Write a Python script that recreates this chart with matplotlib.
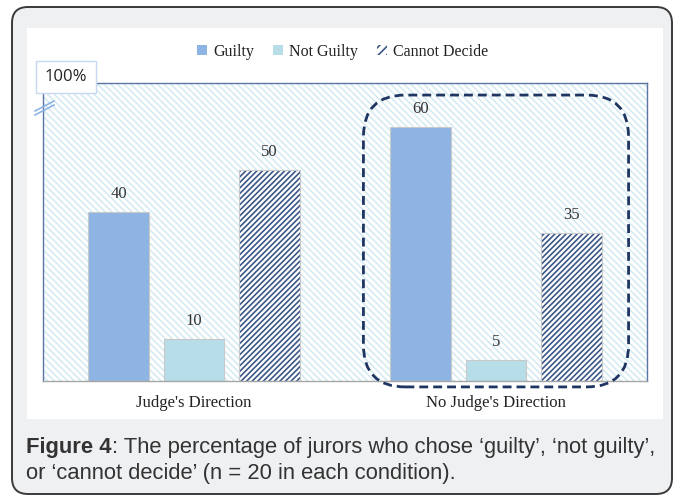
import matplotlib
matplotlib.use("Agg")
import matplotlib.pyplot as plt
from matplotlib.patches import Rectangle, FancyBboxPatch, Patch
from matplotlib.lines import Line2D
import numpy as np

categories = ["Judge's Direction", "No Judge's Direction"]
series_names = ["Guilty", "Not Guilty", "Cannot Decide"]
guilty = [40, 60]
not_guilty = [10, 5]
cannot_decide = [50, 35]
top_label = "100%"
caption_bold = "Figure 4"
caption_rest1 = ": The percentage of jurors who chose \u2018guilty\u2019, \u2018not guilty\u2019,"
caption_line2 = "or \u2018cannot decide\u2019 (n = 20 in each condition)."

W, H = 683, 497
DPI = 100
fig = plt.figure(figsize=(W / DPI, H / DPI), dpi=DPI, facecolor="white")

def px(x, y):
    return x / W, 1 - y / H

# outer rounded card
card = FancyBboxPatch((12 / DPI, (H - 494) / DPI), (672 - 12) / DPI, (494 - 7) / DPI,
                      boxstyle="round,pad=0,rounding_size=0.16",
                      transform=fig.dpi_scale_trans, facecolor="#eff0f2",
                      edgecolor="#3a3a3a", linewidth=1.4, zorder=-3)
fig.patches.append(card)
# white panel
panel = Rectangle(px(27, 419), (663 - 27) / W, (419 - 28) / H, transform=fig.transFigure,
                  facecolor="white", edgecolor="none", zorder=-2)
fig.patches.append(panel)

serif = ["Liberation Serif", "DejaVu Serif"]
sans = ["Liberation Sans", "DejaVu Sans"]

ax = fig.add_axes([43 / W, (H - 381) / H, (647 - 43) / W, (381 - 83) / H])
ax.set_xlim(-0.5, 1.5)
ax.set_ylim(0, 70.45)
ax.patch.set_alpha(0)

# background hatch
plt.rcParams['hatch.linewidth'] = 1.1
bg = Rectangle((0, 0), 1, 1, transform=ax.transAxes, facecolor="white",
               edgecolor="#d3eaf2", hatch="\\" * 5, linewidth=0, zorder=0)
ax.add_patch(bg)

x = np.arange(len(categories))
bw = 0.2
step = 0.25
b1 = ax.bar(x - step, guilty, bw, color="#8eb4e3", edgecolor="#c9c9c9", linewidth=0.8, zorder=2)
b2 = ax.bar(x, not_guilty, bw, color="#b7dee8", edgecolor="#c9c9c9", linewidth=0.8, zorder=2)
plt.rcParams['hatch.linewidth'] = 1.2
b3 = ax.bar(x + step, cannot_decide, bw, color="white", edgecolor="#3b5787", hatch="/" * 6,
            linewidth=0, zorder=2)
ax.bar(x + step, cannot_decide, bw, color="none", edgecolor="#c9c9c9", linewidth=0.8, zorder=3)

for bars, vals in [(b1, guilty), (b2, not_guilty), (b3, cannot_decide)]:
    for r, v in zip(bars, vals):
        ax.annotate(str(v), (r.get_x() + r.get_width() / 2, v), xytext=(0, 7),
                    textcoords="offset points", ha="center", va="bottom",
                    fontsize=12, family=serif, color="#333333")

ax.set_xticks(x)
ax.set_xticklabels(categories, family=serif, fontsize=12, color="#222222")
ax.tick_params(axis="x", length=0, pad=10)
ax.set_yticks([])
for s in ["left", "top", "right"]:
    ax.spines[s].set_color("#5a74a3")
    ax.spines[s].set_linewidth(1.0)
ax.spines["bottom"].set_color("#a6a6a6")
ax.spines["bottom"].set_linewidth(1.0)

# dashed rounded highlight around second group
fig.canvas.draw()
inv = fig.dpi_scale_trans.inverted()
x0d, x1d = 1 - 0.439, 1 + 0.439
y0d, y1d = -1.4, 67.6
(ix0, iy0) = inv.transform(ax.transData.transform((x0d, y0d)))
(ix1, iy1) = inv.transform(ax.transData.transform((x1d, y1d)))
hl = FancyBboxPatch((ix0, iy0), ix1 - ix0, iy1 - iy0,
                    boxstyle="round,pad=0,rounding_size=0.42",
                    transform=fig.dpi_scale_trans, facecolor="none",
                    edgecolor="#1f3561", linewidth=2.0, linestyle=(0, (3.2, 1.8)), zorder=5)
fig.patches.append(hl)

# legend
handles = [Patch(facecolor="#8eb4e3", edgecolor="none"),
           Patch(facecolor="#b7dee8", edgecolor="none"),
           Patch(facecolor="white", edgecolor="#3b5787", hatch="////", linewidth=0)]
fig.legend(handles, series_names, loc="center", bbox_to_anchor=px(343, 52), ncol=3,
           frameon=False, prop={"family": serif, "size": 11.5}, handlelength=0.6,
           handleheight=0.6, handletextpad=0.4, columnspacing=1.2,
           labelcolor="#222222")

# 100% box
fig.text(*px(66, 77), top_label, ha="center", va="center", fontsize=12,
         family=["Open Sans", "DejaVu Sans"], color="#222222",
         bbox=dict(boxstyle="square,pad=0.5", facecolor="white", edgecolor="#c6d9f1", linewidth=1.0))

# axis break marks
for dy in (0, 4):
    fig.add_artist(Line2D([35 / W, 54 / W], [1 - (111 + dy) / H, 1 - (101 + dy) / H],
                          transform=fig.transFigure, color="#8eb4e3", linewidth=1.2))

# caption
fs = 15.8
t1 = fig.text(*px(26, 453), caption_bold, fontsize=fs, family=sans, weight="bold",
              color="#333333", va="baseline", ha="left")
fig.canvas.draw()
bb = t1.get_window_extent()
fig.text(bb.x1 / W, 1 - 453 / H, caption_rest1, fontsize=fs, family=sans,
         color="#333333", va="baseline", ha="left")
fig.text(*px(26, 479), caption_line2, fontsize=fs, family=sans,
         color="#333333", va="baseline", ha="left")

fig.savefig("out.png", dpi=DPI, facecolor="white")
